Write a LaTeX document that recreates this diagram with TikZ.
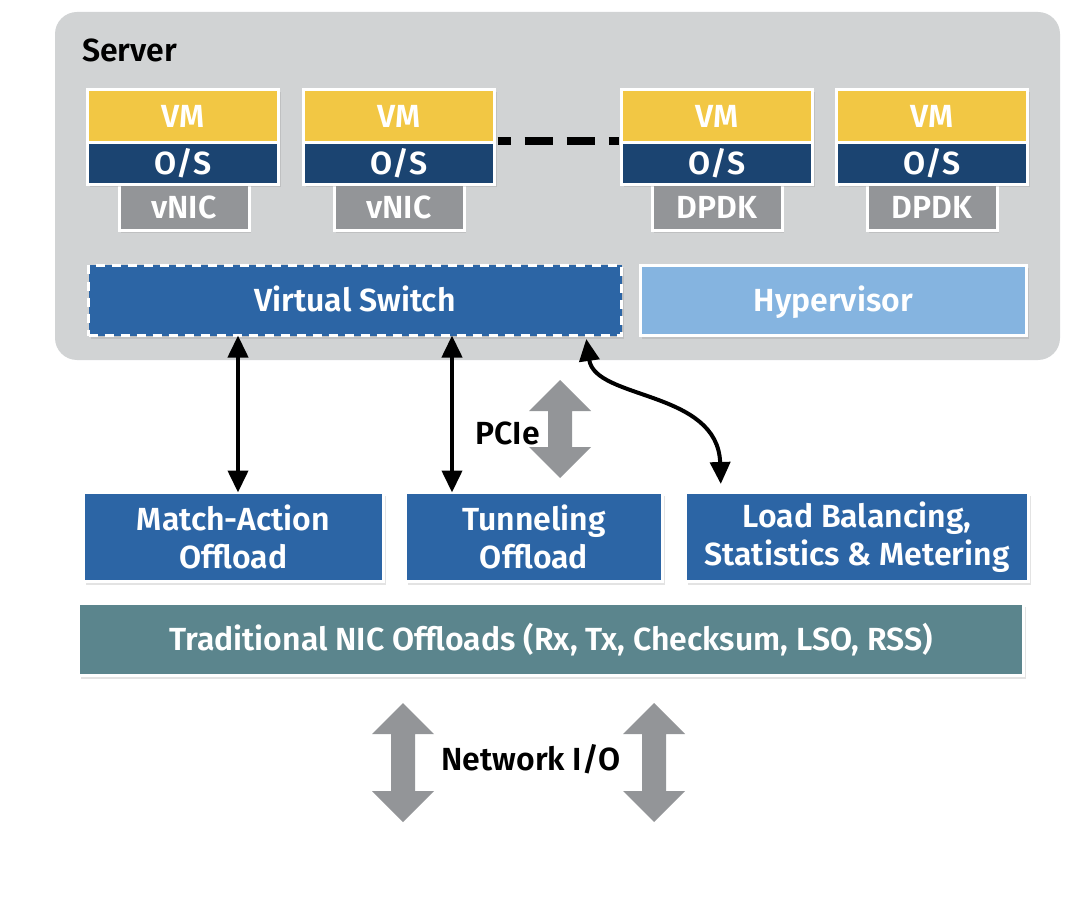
\documentclass[tikz,border=0pt]{standalone}
\usepackage{fontspec}
\setmainfont{Fira Sans}[BoldFont={Fira Sans SemiBold}]
\usetikzlibrary{arrows.meta,shadows}
\definecolor{servergray}{HTML}{D1D3D4}
\definecolor{vmyellow}{HTML}{F2C744}
\definecolor{osnavy}{HTML}{1B4471}
\definecolor{nicgray}{HTML}{939598}
\definecolor{switchblue}{HTML}{2C65A5}
\definecolor{hyperblue}{HTML}{85B4E0}
\definecolor{nicteal}{HTML}{5B858D}
\definecolor{arrowgray}{HTML}{939598}
\newcommand{\grayarrow}[3]{\fill[arrowgray] (#1,#2) -- ({#1+31},{#2+31}) -- ({#1+12},{#2+31}) -- ({#1+12},{#3-31}) -- ({#1+31},{#3-31}) -- (#1,#3) -- ({#1-31},{#3-31}) -- ({#1-12},{#3-31}) -- ({#1-12},{#2+31}) -- ({#1-31},{#2+31}) -- cycle;}

\begin{document}
\begin{tikzpicture}[x=1pt,y=-1pt,font=\fontsize{32}{38}\selectfont\bfseries,
	box/.style={draw=white,line width=3pt,inner sep=0pt,text=white,align=center,drop shadow={opacity=0.22,shadow xshift=2pt,shadow yshift=-3pt}},
	oneline/.style={text height=22pt,text depth=0pt},
	vmbox/.style={box,oneline,fill=vmyellow,minimum width=191pt,minimum height=53.5pt},
	osbox/.style={box,oneline,fill=osnavy,minimum width=191pt,minimum height=41.5pt,drop shadow={opacity=0}},
	nicbox/.style={box,oneline,fill=nicgray,minimum width=130pt,minimum height=46pt},
	offbox/.style={box,fill=switchblue,minimum height=89pt},
	link/.style={line width=4pt,black,{Triangle[length=22pt,width=20pt]}-{Triangle[length=22pt,width=20pt]}}]
	\useasboundingbox (0,0) rectangle (1082,904);
	\fill[servergray,rounded corners=22pt] (55,12) rectangle (1060,360);
	\node[anchor=west,oneline,inner sep=0pt] (server) at (82,51) {Server};

	\node[nicbox] (nic1) at (184,207.5) {vNIC};
	\node[nicbox] (nic2) at (399,207.5) {vNIC};
	\node[nicbox] (nic3) at (717,207.5) {DPDK};
	\node[nicbox] (nic4) at (932,207.5) {DPDK};
	\node[vmbox] (vm1) at (183,116.25) {VM};
	\node[vmbox] (vm2) at (399,116.25) {VM};
	\node[vmbox] (vm3) at (717,116.25) {VM};
	\node[vmbox] (vm4) at (932,116.25) {VM};
	\node[osbox] (os1) at (183,163.75) {O/S};
	\node[osbox] (os2) at (399,163.75) {O/S};
	\node[osbox] (os3) at (717,163.75) {O/S};
	\node[osbox] (os4) at (932,163.75) {O/S};
	\draw[line width=8pt,black,dash pattern=on 28pt off 14pt,dash phase=15pt] ([xshift=1.5pt]os2.north east) -- ([xshift=-1.5pt]os3.north west);

	\node[box,oneline,fill=switchblue,dash pattern=on 9pt off 7pt,minimum width=533pt,minimum height=70pt] (vs) at (355,300.5) {Virtual Switch};
	\node[box,oneline,fill=hyperblue,minimum width=386.5pt,minimum height=70pt] (hv) at (833.25,300.5) {Hypervisor};

	\node[offbox,minimum width=300pt] (ma) at (233.5,537) {Match-Action\\Offload};
	\node[offbox,minimum width=257pt] (tun) at (534,537) {Tunneling\\Offload};
	\node[offbox,minimum width=343pt] (lb) at (857,537) {Load Balancing,\\Statistics \& Metering};
	\node[box,oneline,fill=nicteal,minimum width=945pt,minimum height=72pt] (nic) at (551,639.5) {Traditional NIC Offloads (Rx, Tx, Checksum, LSO, RSS)};

	\coordinate (c1) at (238,0);
	\coordinate (c2) at (452,0);
	\coordinate (c3) at (586,0);
	\coordinate (c4) at (721,0);
	\draw[link,shorten <=-1.5pt,shorten >=-1.5pt] (vs.south -| c1) -- (ma.north -| c1);
	\draw[link,shorten <=-1.5pt,shorten >=-1.5pt] (vs.south -| c2) -- (tun.north -| c2);
	\draw[link,shorten <=2pt,shorten >=7pt] (vs.south -| c3) .. controls (595,400) and (718,390) .. (lb.north -| c4);

	\grayarrow{560}{380}{478}
	\node[anchor=east,oneline,inner sep=0pt] (pcie) at (540,433) {PCIe};
	\grayarrow{403}{703}{822}
	\grayarrow{654}{703}{822}
	\node[oneline,inner sep=0pt] (netio) at (531,759) {Network I/O};
\end{tikzpicture}
\end{document}
